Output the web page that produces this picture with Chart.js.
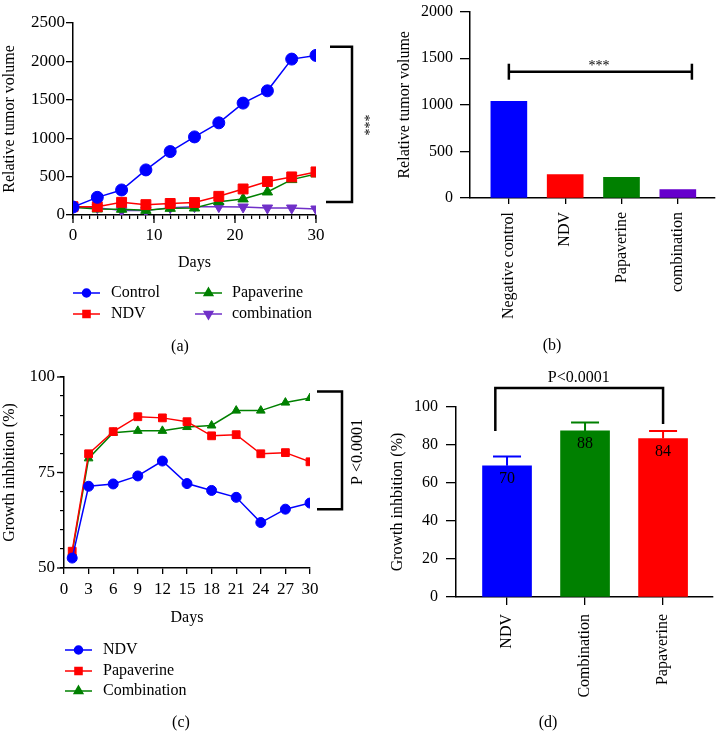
<!DOCTYPE html>
<html lang="en">
<head>
<meta charset="UTF-8">
<title>Tumor volume and growth inhibition</title>
<script src="https://cdn.jsdelivr.net/npm/chart.js@4.4.0/dist/chart.umd.min.js"></script>
<style>
  html, body { margin: 0; padding: 0; background: #fff; }
  #fig { position: relative; width: 716px; height: 731px; overflow: hidden; }
  canvas { position: absolute; }
</style>
</head>
<body>
<div id="fig">
  <canvas id="chartA" width="380" height="360" style="left:0;top:0"></canvas>
  <canvas id="chartB" width="336" height="365" style="left:380px;top:-5px"></canvas>
  <canvas id="chartC" width="380" height="371" style="left:0;top:360px"></canvas>
  <canvas id="chartD" width="336" height="371" style="left:380px;top:360px"></canvas>
</div>
<script>
// (a) relative tumor volume over time
const daysA = [0, 3, 6, 9, 12, 15, 18, 21, 24, 27, 30];
const controlA = [104, 230, 326, 587, 826, 1017, 1200, 1457, 1617, 2030, 2078];
const ndvA = [108, 108, 165, 135, 150, 162, 243, 339, 435, 496, 561];
const papaverineA = [100, 78, 75, 61, 87, 91, 174, 209, 300, 461, 535];
const combinationA = [100, 96, 57, 57, 96, 109, 109, 104, 91, 91, 78];
const majorA = [0, 10, 20, 30];
const minorA = Array.from({ length: 31 }, (_, i) => i);
const bracketA = [170, 2190];

// (b) relative tumor volume per group
const catsB = ['Negative control', 'NDV', 'Papaverine', 'combination'];
const valsB = [1036, 250, 222, 90];
const bracketB = 1355;

// (c) growth inhibition over time
const daysC = [1, 3, 6, 9, 12, 15, 18, 21, 24, 27, 30];
const ndvC = [52.6, 71.4, 72.0, 74.1, 78.0, 72.1, 70.3, 68.5, 61.9, 65.4, 67.0];
const papaverineC = [54.4, 79.9, 85.7, 89.6, 89.3, 88.3, 84.6, 84.9, 79.9, 80.2, 77.8];
const combinationC = [54.0, 78.7, 85.4, 85.9, 85.9, 86.9, 87.3, 91.2, 91.2, 93.3, 94.5];
const xTicksC = [0, 3, 6, 9, 12, 15, 18, 21, 24, 27, 30];
const yTicksC = [50, 55, 60, 65, 70, 75, 80, 85, 90, 95, 100];
const yMajorC = [50, 75, 100];
const bracketC = [65.4, 96.2];

// (d) growth inhibition per group
const catsD = ['NDV', 'Combination', 'Papaverine'];
const valsD = [69.1, 87.4, 83.4];
const errTopD = [74.0, 91.8, 87.4];
const labelsD = ['70', '88', '84'];
const bracketD = { left: 87.4, right: 91.0, top: 110 };

const SERIF = "'Liberation Serif', 'Times New Roman', serif";
const BLUE = '#0000FF', RED = '#FF0000', GREEN = '#008000', PURPLE = '#7030C8', PURPLE_BAR = '#6600CC';

Chart.defaults.font.family = SERIF;
Chart.defaults.font.size = 16;
Chart.defaults.color = '#000';
Chart.defaults.animation = false;
Chart.defaults.plugins.legend.display = false;
Chart.defaults.plugins.tooltip.enabled = false;

const axisBorder = { color: '#000', width: 1.5 };
const plain = v => String(v);

function marker(ctx, style, rot, r, x, y, color) {
  ctx.save();
  ctx.fillStyle = color;
  ctx.strokeStyle = color;
  Chart.helpers.drawPoint(ctx, { pointStyle: style, rotation: rot, radius: r, borderWidth: 1 }, x, y);
  ctx.restore();
}

function legendRow(ctx, x1, x2, textX, y, color, style, rot, r, text) {
  ctx.save();
  ctx.strokeStyle = color;
  ctx.lineWidth = 1.5;
  ctx.beginPath(); ctx.moveTo(x1, y); ctx.lineTo(x2, y); ctx.stroke();
  marker(ctx, style, rot, r, (x1 + x2) / 2, y, color);
  ctx.fillStyle = '#000';
  ctx.font = '16px ' + SERIF;
  ctx.textAlign = 'left';
  ctx.textBaseline = 'middle';
  ctx.fillText(text, textX, y);
  ctx.restore();
}

function label(ctx, s, x, y, size, rot) {
  ctx.save();
  ctx.translate(x, y);
  ctx.rotate(rot || 0);
  ctx.fillStyle = '#000';
  ctx.font = size + 'px ' + SERIF;
  ctx.textAlign = 'center';
  ctx.textBaseline = 'middle';
  ctx.fillText(s, 0, 0);
  ctx.restore();
}

function path(ctx, pts, w) {
  ctx.save();
  ctx.strokeStyle = '#000';
  ctx.lineWidth = w;
  ctx.beginPath();
  pts.forEach((p, i) => i ? ctx.lineTo(p[0], p[1]) : ctx.moveTo(p[0], p[1]));
  ctx.stroke();
  ctx.restore();
}

function series(name, xs, ys, color, style, rot, r) {
  return {
    label: name,
    data: xs.map((x, i) => ({ x: x, y: ys[i] })),
    borderColor: color, backgroundColor: color,
    borderWidth: 1.5, pointStyle: style, pointRotation: rot,
    pointRadius: r, pointBorderWidth: 1, tension: 0
  };
}

// ---------- (a) ----------
const extrasA = {
  id: 'extrasA',
  afterDraw(chart) {
    const { ctx, chartArea: ca, scales: { x, y } } = chart;
    majorA.forEach(v => {
      const px = x.getPixelForValue(v);
      path(ctx, [[px, ca.bottom], [px, ca.bottom + 8]], 1.3);
    });
    const yt = y.getPixelForValue(bracketA[1]), yb = y.getPixelForValue(bracketA[0]);
    path(ctx, [[ca.right + 14, yt], [ca.right + 36, yt], [ca.right + 36, yb], [ca.right + 10, yb]], 2.5);
    label(ctx, '***', 364, 125, 14, Math.PI / 2);
    legendRow(ctx, 73, 100, 111, 293, BLUE, 'circle', 0, 4, 'Control');
    legendRow(ctx, 73, 100, 111, 314, RED, 'rect', 0, 5, 'NDV');
    legendRow(ctx, 195, 222, 232, 293, GREEN, 'triangle', 0, 5, 'Papaverine');
    legendRow(ctx, 195, 222, 232, 314, PURPLE, 'triangle', 180, 5, 'combination');
    label(ctx, '(a)', 180, 347, 16);
  }
};

new Chart(document.getElementById('chartA'), {
  type: 'line',
  data: { datasets: [
    series('Control', daysA, controlA, BLUE, 'circle', 0, 6),
    series('NDV', daysA, ndvA, RED, 'rect', 0, 7),
    series('Papaverine', daysA, papaverineA, GREEN, 'triangle', 0, 6),
    series('combination', daysA, combinationA, PURPLE, 'triangle', 180, 6)
  ] },
  options: {
    responsive: false,
    layout: { padding: { left: 0, top: 23, right: 64, bottom: 88 } },
    scales: {
      x: {
        type: 'linear', min: 0, max: 30,
        afterBuildTicks: s => { s.ticks = minorA.map(v => ({ value: v })); },
        afterFit: s => { s.height = 57; },
        ticks: { autoSkip: false, maxRotation: 0, padding: 6, font: { size: 17 }, callback: v => majorA.includes(v) ? String(v) : '' },
        grid: { drawOnChartArea: false, color: '#000', tickLength: 4, lineWidth: 1.2 },
        border: axisBorder,
        title: { display: true, text: 'Days', padding: 0 }
      },
      y: {
        min: 0, max: 2500,
        afterFit: s => { s.width = 73; },
        ticks: { stepSize: 500, padding: 1, font: { size: 17 }, callback: plain },
        grid: { drawOnChartArea: false, color: '#000', tickLength: 7, lineWidth: 1.3 },
        border: axisBorder,
        title: { display: true, text: 'Relative tumor volume', padding: 0 }
      }
    }
  },
  plugins: [extrasA]
});

// ---------- (b) ----------
const extrasB = {
  id: 'extrasB',
  afterDraw(chart) {
    const { ctx, scales: { x, y } } = chart;
    const yl = y.getPixelForValue(bracketB);
    const x1 = x.getPixelForValue(0), x2 = x.getPixelForValue(3.25);
    path(ctx, [[x1, yl], [x2, yl]], 2.5);
    path(ctx, [[x1, yl - 8], [x1, yl + 8]], 2.5);
    path(ctx, [[x2, yl - 8], [x2, yl + 8]], 2.5);
    label(ctx, '***', x.getPixelForValue(1.6), yl - 5, 14);
    label(ctx, '(b)', 172, 351, 16);
  }
};

new Chart(document.getElementById('chartB'), {
  type: 'bar',
  data: { datasets: [{
    data: catsB.map((c, i) => ({ x: i, y: valsB[i] })),
    backgroundColor: [BLUE, RED, GREEN, PURPLE_BAR],
    barThickness: 36
  }] },
  options: {
    responsive: false,
    layout: { padding: { left: 0, top: 11, right: 1, bottom: 32 } },
    scales: {
      x: {
        type: 'linear', min: -0.69, max: 3.66, offset: false,
        afterBuildTicks: s => { s.ticks = catsB.map((c, i) => ({ value: i })); },
        afterFit: s => { s.height = 130; },
        ticks: { autoSkip: false, minRotation: 90, maxRotation: 90, padding: 8, callback: v => catsB[v] },
        grid: { drawOnChartArea: false, offset: false, color: '#000', tickLength: 6, lineWidth: 1.3 },
        border: axisBorder
      },
      y: {
        min: 0, max: 2000,
        afterFit: s => { s.width = 90; },
        ticks: { stepSize: 500, padding: 7, callback: plain },
        grid: { drawOnChartArea: false, color: '#000', tickLength: 10, lineWidth: 1.3 },
        border: axisBorder,
        title: { display: true, text: 'Relative tumor volume', padding: { top: 15, bottom: 0 } }
      }
    }
  },
  plugins: [extrasB]
});

// ---------- (c) ----------
const extrasC = {
  id: 'extrasC',
  afterDraw(chart) {
    const { ctx, chartArea: ca, scales: { y } } = chart;
    yMajorC.forEach(v => {
      const py = y.getPixelForValue(v);
      path(ctx, [[ca.left - 7, py], [ca.left, py]], 1.3);
    });
    const yt = y.getPixelForValue(bracketC[1]), yb = y.getPixelForValue(bracketC[0]);
    path(ctx, [[ca.right + 7, yt], [ca.right + 32, yt], [ca.right + 32, yb], [ca.right + 7, yb]], 2.5);
    label(ctx, 'P <0.0001', 358, 92, 16, -Math.PI / 2);
    legendRow(ctx, 65, 92, 103, 290, BLUE, 'circle', 0, 4, 'NDV');
    legendRow(ctx, 65, 92, 103, 311, RED, 'rect', 0, 5, 'Papaverine');
    legendRow(ctx, 65, 92, 103, 331, GREEN, 'triangle', 0, 5, 'Combination');
    label(ctx, '(c)', 181, 363, 16);
  }
};

new Chart(document.getElementById('chartC'), {
  type: 'line',
  data: { datasets: [
    series('NDV', daysC, ndvC, BLUE, 'circle', 0, 5),
    series('Papaverine', daysC, papaverineC, RED, 'rect', 0, 5.5),
    series('Combination', daysC, combinationC, GREEN, 'triangle', 0, 5)
  ] },
  options: {
    responsive: false,
    layout: { padding: { left: 0, top: 17, right: 70, bottom: 104 } },
    scales: {
      x: {
        type: 'linear', min: 0, max: 30,
        afterBuildTicks: s => { s.ticks = xTicksC.map(v => ({ value: v })); },
        afterFit: s => { s.height = 59; },
        ticks: { autoSkip: false, maxRotation: 0, padding: 5, font: { size: 17 }, callback: plain },
        grid: { drawOnChartArea: false, color: '#000', tickLength: 6, lineWidth: 1.3 },
        border: axisBorder,
        title: { display: true, text: 'Days', padding: 0 }
      },
      y: {
        min: 50, max: 100,
        afterBuildTicks: s => { s.ticks = yTicksC.map(v => ({ value: v })); },
        afterFit: s => { s.width = 64; },
        ticks: { autoSkip: false, padding: 5, font: { size: 17 }, callback: v => yMajorC.includes(v) ? String(v) : '' },
        grid: { drawOnChartArea: false, color: '#000', tickLength: 4, lineWidth: 1.2 },
        border: axisBorder,
        title: { display: true, text: 'Growth inhbition (%)', padding: 0 }
      }
    }
  },
  plugins: [extrasC]
});

// ---------- (d) ----------
const colorsD = [BLUE, GREEN, RED];
const extrasD = {
  id: 'extrasD',
  afterDraw(chart) {
    const { ctx, scales: { x, y } } = chart;
    catsD.forEach((c, i) => {
      const px = x.getPixelForValue(i);
      const top = y.getPixelForValue(valsD[i]), et = y.getPixelForValue(errTopD[i]);
      ctx.save();
      ctx.strokeStyle = colorsD[i];
      ctx.lineWidth = 2;
      ctx.beginPath();
      ctx.moveTo(px, top); ctx.lineTo(px, et);
      ctx.moveTo(px - 14, et); ctx.lineTo(px + 14, et);
      ctx.stroke();
      ctx.restore();
      label(ctx, labelsD[i], px, top + 13, 16);
    });
    const xl = x.getPixelForValue(-0.15), xr = x.getPixelForValue(2);
    path(ctx, [[xl, y.getPixelForValue(bracketD.left)], [xl, y.getPixelForValue(bracketD.top)],
      [xr, y.getPixelForValue(bracketD.top)], [xr, y.getPixelForValue(bracketD.right)]], 2.5);
    label(ctx, 'P<0.0001', x.getPixelForValue(0.92), y.getPixelForValue(115.3), 16);
    label(ctx, '(d)', 168, 363, 16);
  }
};

new Chart(document.getElementById('chartD'), {
  type: 'bar',
  data: { datasets: [{
    data: catsD.map((c, i) => ({ x: i, y: valsD[i] })),
    backgroundColor: colorsD,
    barThickness: 49
  }] },
  options: {
    responsive: false,
    layout: { padding: { left: 0, top: 47, right: 3, bottom: 24 } },
    scales: {
      x: {
        type: 'linear', min: -0.654, max: 2.64, offset: false,
        afterBuildTicks: s => { s.ticks = catsD.map((c, i) => ({ value: i })); },
        afterFit: s => { s.height = 110; },
        ticks: { autoSkip: false, minRotation: 90, maxRotation: 90, padding: 9, callback: v => catsD[v] },
        grid: { drawOnChartArea: false, offset: false, color: '#000', tickLength: 8, lineWidth: 1.3 },
        border: axisBorder
      },
      y: {
        min: 0, max: 100,
        afterFit: s => { s.width = 76; },
        ticks: { stepSize: 20, padding: 8, callback: plain },
        grid: { drawOnChartArea: false, color: '#000', tickLength: 10, lineWidth: 1.3 },
        border: axisBorder,
        title: { display: true, text: 'Growth inhbition (%)', padding: { top: 8, bottom: 0 } }
      }
    }
  },
  plugins: [extrasD]
});
</script>
</body>
</html>
